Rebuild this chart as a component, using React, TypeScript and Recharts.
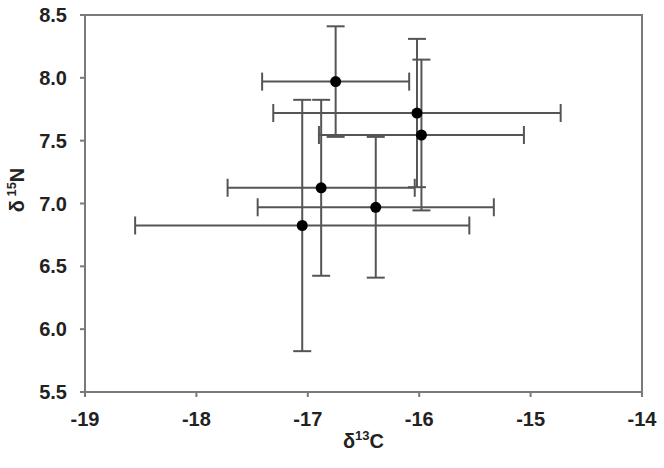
import React from "react";
import { ScatterChart, Scatter, XAxis, YAxis, ErrorBar, ReferenceArea } from "recharts";

const carbon = [-16.75, -16.02, -15.98, -16.88, -16.39, -17.05];
const nitrogen = [7.97, 7.72, 7.545, 7.125, 6.97, 6.825];
const carbonErr = [0.66, 1.29, 0.92, 0.84, 1.06, 1.5];
const nitrogenErr = [0.44, 0.59, 0.6, 0.7, 0.56, 1.0];
const xTicks = [-19, -18, -17, -16, -15, -14];
const yTicks = [5.5, 6.0, 6.5, 7.0, 7.5, 8.0, 8.5];

const data = carbon.map((x, i) => ({
  x,
  y: nitrogen[i],
  xerr: carbonErr[i],
  yerr: nitrogenErr[i],
}));

const FONT = "'Liberation Sans', Arial, sans-serif";
const tickStyle = { fontSize: 20, fontWeight: 700, fill: "#222", fontFamily: FONT };

const Dot = (p: any) => <circle cx={p.cx} cy={p.cy} r={5.5} fill="#000" />;

const XLabel = (props: any) => {
  const vb = props.viewBox || {};
  const cx = vb.x + vb.width / 2;
  return (
    <text x={cx} y={448} textAnchor="middle" fontFamily={FONT} fontWeight={700} fontSize={20} fill="#222">
      δ<tspan fontSize={13} dy={-8}>13</tspan><tspan dy={8}>C</tspan>
    </text>
  );
};

const YLabel = () => (
  <text
    x={0}
    y={0}
    transform="translate(24,190) rotate(-90)"
    textAnchor="middle"
    fontFamily={FONT}
    fontWeight={700}
    fontSize={20}
    fill="#222"
  >
    δ<tspan fontSize={13} dy={-8}> 15</tspan><tspan dy={8}>N</tspan>
  </text>
);

export default function App() {
  return (
    <div style={{ position: "absolute", left: 0, top: 0, width: 664, height: 468, background: "#fff" }}>
      <ScatterChart width={664} height={468} margin={{ top: 15, right: 22, bottom: 26, left: 0 }}>
        <XAxis
          type="number"
          dataKey="x"
          domain={[-19, -14]}
          ticks={xTicks}
          allowDataOverflow
          height={50}
          tickSize={5}
          tickMargin={15}
          tick={tickStyle}
          axisLine={{ stroke: "#7a7a7a", strokeWidth: 2 }}
          tickLine={{ stroke: "#7a7a7a", strokeWidth: 2 }}
          label={<XLabel />}
        />
        <YAxis
          type="number"
          dataKey="y"
          domain={[5.5, 8.5]}
          ticks={yTicks}
          allowDataOverflow
          width={85}
          tickSize={5}
          tickMargin={13}
          tick={tickStyle}
          tickFormatter={(v: number) => v.toFixed(1)}
          axisLine={{ stroke: "#7a7a7a", strokeWidth: 2 }}
          tickLine={{ stroke: "#7a7a7a", strokeWidth: 2 }}
          label={<YLabel />}
        />
        <ReferenceArea x1={-19} x2={-14} y1={5.5} y2={8.5} fill="none" stroke="#7a7a7a" strokeWidth={2} />
        <Scatter data={data} shape={Dot} isAnimationActive={false}>
          <ErrorBar dataKey="xerr" direction="x" width={9} stroke="#555" strokeWidth={2} />
          <ErrorBar dataKey="yerr" direction="y" width={9} stroke="#555" strokeWidth={2} />
        </Scatter>
      </ScatterChart>
    </div>
  );
}
